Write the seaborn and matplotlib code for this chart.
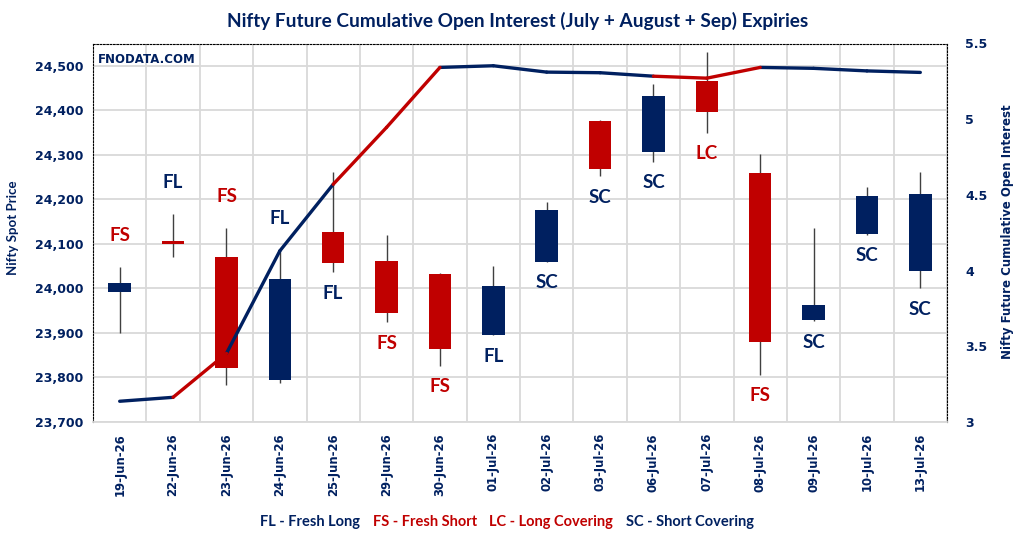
import matplotlib
matplotlib.use("Agg")
import matplotlib.pyplot as plt
from matplotlib.ticker import FuncFormatter
from matplotlib.offsetbox import TextArea, HPacker, AnchoredOffsetbox
import numpy as np
import pandas as pd
import seaborn as sns

# ========================================================================
# DATA
# ========================================================================
dates = ['19-Jun-26', '22-Jun-26', '23-Jun-26', '24-Jun-26', '25-Jun-26', '29-Jun-26',
         '30-Jun-26', '01-Jul-26', '02-Jul-26', '03-Jul-26', '06-Jul-26', '07-Jul-26',
         '08-Jul-26', '09-Jul-26', '10-Jul-26', '13-Jul-26']
open_px = [23991, 24107, 24071, 23794, 24127, 24062, 24033, 23896, 24060, 24376, 24307, 24466,
           24260, 23928, 24123, 24038]
high_px = [24048, 24167, 24135, 24085, 24261, 24120, 24035, 24050, 24194, 24379, 24459, 24531,
           24302, 24135, 24228, 24261]
low_px = [23899, 24071, 23782, 23787, 24036, 23924, 23826, 23895, 24059, 24252, 24285, 24349,
          23806, 23926, 24121, 24000]
close_px = [24012, 24100, 23822, 24021, 24056, 23945, 23865, 24006, 24176, 24269, 24433, 24397,
            23880, 23963, 24208, 24212]
# CUMULATIVE OPEN INTEREST (RIGHT AXIS)
cum_oi = [3.137, 3.163, 3.453, 4.130, 4.570, 4.946, 5.342, 5.353, 5.311, 5.307, 5.284, 5.271,
          5.342, 5.336, 5.319, 5.309]
# SIGNAL OF THE DAY AND WHERE ITS TAG SITS
signal = ['FS', 'FL', 'FS', 'FL', 'FL', 'FS', 'FS', 'FL', 'SC', 'SC', 'SC', 'LC', 'FS', 'SC', 'SC', 'SC']
tag_side = ['above', 'above', 'above', 'above', 'below', 'below', 'below', 'below', 'below',
            'below', 'below', 'below', 'below', 'below', 'below', 'below']

legend_parts = ['FL - Fresh Long', 'FS - Fresh Short', 'LC - Long Covering', 'SC - Short Covering']

# COLORS
NAVY = '#002060'
RED = '#C00000'
sig_color = {'FL': NAVY, 'SC': NAVY, 'FS': RED, 'LC': RED}

# ========================================================================
# FIGURE
# ========================================================================
sns.set_theme(style='white')
plt.rcParams['font.family'] = ['DejaVu Sans']
plt.rcParams['font.weight'] = 'bold'

fig = plt.figure(figsize=(10.24, 5.37), dpi=100)
ax = fig.add_axes([93 / 1024, 1 - 422 / 537, 854 / 1024, 378.5 / 537])
ax2 = ax.twinx()

x = np.arange(len(dates))

# CANDLES: WICKS + BODIES
ax.vlines(x, low_px, high_px, color='#404040', linewidth=1, zorder=2)
body_col = [NAVY if c >= o else RED for o, c in zip(open_px, close_px)]
ax.bar(x, np.array(close_px) - np.array(open_px), bottom=open_px, width=0.42,
       color=body_col, linewidth=0, zorder=3)

# SIGNAL TAGS
for i, s in enumerate(signal):
    if tag_side[i] == 'above':
        ax.annotate(s, xy=(i, high_px[i]), xytext=(0, 23), textcoords='offset points',
                    ha='center', va='center', fontsize=13.5, family='Lato', color=sig_color[s], zorder=5)
    else:
        ax.annotate(s, xy=(i, low_px[i]), xytext=(0, -15), textcoords='offset points',
                    ha='center', va='center', fontsize=13.5, family='Lato', color=sig_color[s], zorder=5)

# OPEN INTEREST LINE, EACH SEGMENT COLORED BY THE SIGNAL OF ITS END DAY
rows = []
for i in range(1, len(dates)):
    kind = 'long' if sig_color[signal[i]] == NAVY else 'short'
    for j in (i - 1, i):
        rows.append({'seg': i, 'x': j, 'oi': cum_oi[j], 'kind': kind})
seg_df = pd.DataFrame(rows)
sns.lineplot(data=seg_df, x='x', y='oi', hue='kind', units='seg', estimator=None,
             palette={'long': NAVY, 'short': RED}, linewidth=2.4, legend=False, ax=ax2,
             solid_capstyle='round')

# LEFT AXIS
ax.set_xlim(-0.5, len(dates) - 0.5)
ax.set_ylim(23700, 24550)
ax.set_yticks(np.arange(23700, 24501, 100))
ax.yaxis.set_major_formatter(FuncFormatter(lambda v, p: f'{v:,.0f}'))
ax.set_xticks(x)
ax.set_xticklabels(dates, rotation=90)
ax.set_xticks(np.arange(-0.5, len(dates), 1), minor=True)
ax.grid(False)
ax.yaxis.grid(True, color='#D9D9D9', linewidth=1.3, zorder=0)
ax.xaxis.grid(True, which='minor', color='#D9D9D9', linewidth=1.3, zorder=0)
ax.set_axisbelow(True)
ax.tick_params(axis='y', length=0, pad=7, labelsize=9, labelcolor=NAVY)
ax.tick_params(axis='x', which='both', length=0, pad=8, labelsize=8.4, labelcolor=NAVY)
ax.set_xlabel('')
ax.set_ylabel('')

# RIGHT AXIS
ax2.set_ylim(3, 5.5)
ax2.set_yticks([3, 3.5, 4, 4.5, 5, 5.5])
ax2.yaxis.set_major_formatter(FuncFormatter(lambda v, p: f'{v:g}'))
ax2.tick_params(axis='y', length=0, pad=13, labelsize=9, labelcolor=NAVY)
ax2.set_xlabel('')
ax2.set_ylabel('')
ax2.grid(False)

# PLOT AREA BORDER
for side in ['left', 'top', 'right']:
    ax.spines[side].set_linestyle((0, (1.5, 1.5)))
    ax.spines[side].set_color('black')
    ax.spines[side].set_linewidth(0.8)
ax.spines['bottom'].set_color('#D9D9D9')
ax.spines['bottom'].set_linewidth(1.3)
for side in ax2.spines:
    ax2.spines[side].set_visible(False)

# TEXTS
ax.text(0.006, 0.975, 'FNODATA.COM', transform=ax.transAxes, ha='left', va='top',
        fontsize=8.5, color=NAVY, zorder=6)
fig.text(518 / 1024, 1 - 21 / 537, 'Nifty Future Cumulative Open Interest (July + August + Sep) Expiries',
         ha='center', va='center', fontsize=13.7, family='Lato', color=NAVY)
fig.text(13 / 1024, 1 - 228 / 537, 'Nifty Spot Price', rotation=90, ha='center', va='center',
         fontsize=9.5, family='Lato', color=NAVY)
fig.text(1008 / 1024, 1 - 232 / 537, 'Nifty Future Cumulative Open Interest', rotation=90,
         ha='center', va='center', fontsize=8.5, color=NAVY)

# BOTTOM KEY
boxes = [TextArea(t, textprops=dict(color=sig_color[t[:2]], family='Lato', weight='bold', size=10.5))
         for t in legend_parts]
pack = HPacker(children=boxes, align='center', pad=0, sep=9)
key = AnchoredOffsetbox(loc='center', child=pack, bbox_to_anchor=(507 / 1024, 1 - 522 / 537),
                        bbox_transform=fig.transFigure, frameon=False, pad=0, borderpad=0)
fig.add_artist(key)

plt.savefig('out.png', dpi=100)
